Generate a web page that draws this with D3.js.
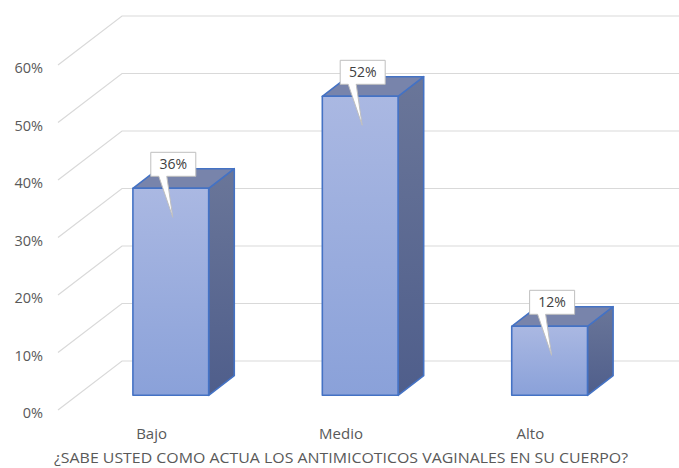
<!DOCTYPE html>
<html>
<head>
<meta charset="utf-8">
<script src="https://cdn.jsdelivr.net/npm/d3@7"></script>
<style>
  html, body { margin: 0; padding: 0; background: #ffffff; }
  svg { display: block; }
  text { font-family: "Open Sans", "Segoe UI", sans-serif; }
</style>
</head>
<body>
<svg id="chart" width="679" height="468"></svg>
<script>
// Survey answers: share of respondents per knowledge level
const categories = ["Bajo", "Medio", "Alto"];
const values = [0.36, 0.52, 0.12];
const yTickValues = [0, 0.1, 0.2, 0.3, 0.4, 0.5, 0.6];
const axisTitle = "¿SABE USTED COMO ACTUA LOS ANTIMICOTICOS VAGINALES EN SU CUERPO?";

const W = 679, H = 468;
const svg = d3.select("#chart");

// Oblique 3D projection: depth 0 = front plane, depth 1 = back wall
const DX = 64, DY = 49;
const proj = (x, y, d) => [x + d * DX, y - d * DY];

// Front-plane scales
const y = d3.scaleLinear().domain([0, 0.6]).range([410, 65]);
const x = d3.scaleBand().domain(categories).range([19, 663])
  .paddingInner(0.6).paddingOuter(0.5);

const frontLeft = 58;
const fmt = d3.format(".0%");

// Gridlines: diagonal on the side wall + horizontal on the back wall
const grid = svg.append("g").attr("stroke", "#d9d9d9").attr("stroke-width", 1.2).attr("fill", "none");
yTickValues.forEach(t => {
  const a = proj(frontLeft, y(t), 0);
  const b = proj(frontLeft, y(t), 1);
  grid.append("path").attr("d", d3.line()([a, b, [W, b[1]]]));
});

// Value axis labels
const yAxis = svg.append("g")
  .attr("transform", "translate(43,3)")
  .call(d3.axisLeft(y).tickValues(yTickValues).tickFormat(fmt).tickSize(0).tickPadding(0));
yAxis.select(".domain").remove();
yAxis.selectAll("text").attr("fill", "#595959").attr("font-size", 14.5);

// Gradients for the faces
const defs = svg.append("defs");
function vgrad(id, c0, c1) {
  const g = defs.append("linearGradient").attr("id", id)
    .attr("x1", 0).attr("y1", 0).attr("x2", 0).attr("y2", 1);
  g.append("stop").attr("offset", 0).attr("stop-color", c0);
  g.append("stop").attr("offset", 1).attr("stop-color", c1);
}
vgrad("frontFace", "#aab8e2", "#8aa1d9");
vgrad("sideFace", "#6a7699", "#4f5e8b");

// Bars: front face sits between depth d0 and d1
const d0 = 0.3, d1 = 0.7;
const edge = "#4472c4";
const bars = svg.append("g");
categories.forEach((c, i) => {
  const v = values[i];
  const xl = x(c), xr = x(c) + x.bandwidth();
  const FBL = proj(xl, y(0), d0), FBR = proj(xr, y(0), d0);
  const FTL = proj(xl, y(v), d0), FTR = proj(xr, y(v), d0);
  const BTL = proj(xl, y(v), d1), BTR = proj(xr, y(v), d1);
  const BBR = proj(xr, y(0), d1);
  const g = bars.append("g").attr("stroke", edge).attr("stroke-width", 1.6).attr("stroke-linejoin", "round");
  // side face
  g.append("path").attr("d", d3.line()([FTR, BTR, BBR, FBR]) + "Z").attr("fill", "url(#sideFace)");
  // top face
  g.append("path").attr("d", d3.line()([FTL, FTR, BTR, BTL]) + "Z").attr("fill", "#7884ab");
  // front face
  g.append("path").attr("d", d3.line()([FTL, FTR, FBR, FBL]) + "Z").attr("fill", "url(#frontFace)");
});

// Data callouts above each bar
const labels = svg.append("g");
categories.forEach((c, i) => {
  const v = values[i];
  const top = proj(x(c) + x.bandwidth() / 2, y(v), d0);
  const cx = top[0] + 2.5;
  const bw = 45, bh = 24;
  const bx0 = cx - bw / 2, bx1 = cx + bw / 2;
  const by1 = top[1] - 12, by0 = by1 - bh;
  const tip = [cx - 0.5, top[1] + 29];
  const path = d3.line()([
    [bx0, by0], [bx1, by0], [bx1, by1], [cx - 6.5, by1], tip, [cx - 14.5, by1], [bx0, by1]
  ]) + "Z";
  labels.append("path").attr("d", path)
    .attr("fill", "#ffffff").attr("stroke", "#bfbfbf").attr("stroke-width", 1);
  labels.append("text").attr("x", cx).attr("y", (by0 + by1) / 2 + 5)
    .attr("text-anchor", "middle").attr("font-size", 14).attr("fill", "#404040")
    .text(fmt(v));
});

// Category axis labels on the front plane
const xAxis = svg.append("g")
  .attr("transform", "translate(0,428)")
  .call(d3.axisBottom(x).tickSize(0).tickPadding(0));
xAxis.select(".domain").remove();
xAxis.selectAll("text").attr("fill", "#595959").attr("font-size", 15);

// Axis title
svg.append("text")
  .attr("x", 341).attr("y", 463)
  .attr("text-anchor", "middle")
  .attr("font-size", 15)
  .attr("textLength", 574)
  .attr("lengthAdjust", "spacingAndGlyphs")
  .attr("fill", "#595959")
  .text(axisTitle);
</script>
</body>
</html>
